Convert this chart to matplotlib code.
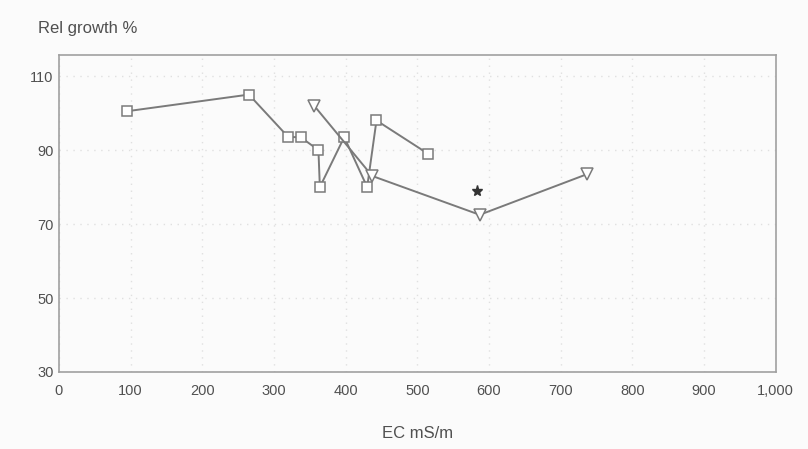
import matplotlib.pyplot as plt

plt.rcParams['font.family'] = ['Liberation Sans', 'DejaVu Sans']

# series read from the growth trial
square_ec = [95, 265, 320, 337, 362, 364, 398, 430, 443, 515]
square_growth = [100.5, 105, 93.5, 93.5, 90, 80, 93.5, 80, 98, 89]

triangle_ec = [356, 437, 587, 737]
triangle_growth = [102, 83, 72.5, 83.5]

star_ec = [583]
star_growth = [79]

x_ticks = [0, 100, 200, 300, 400, 500, 600, 700, 800, 900, 1000]
x_labels = ["0", "100", "200", "300", "400", "500", "600", "700", "800", "900", "1,000"]
y_ticks = [30, 50, 70, 90, 110]

line_col = "#7a7a7a"
text_col = "#505050"

fig = plt.figure(figsize=(8.08, 4.49), dpi=100)
fig.patch.set_facecolor("#fbfbfb")
ax = fig.add_axes([0.073, 0.1715, 0.887, 0.706])
ax.set_facecolor("#fbfbfb")

ax.plot(square_ec, square_growth, color=line_col, lw=1.4, marker="s", ms=6.5,
        mfc="white", mec=line_col, mew=1.1, zorder=3)
ax.plot(triangle_ec, triangle_growth, color=line_col, lw=1.4, marker="v", ms=8,
        mfc="white", mec=line_col, mew=1.1, zorder=3)
ax.plot(star_ec, star_growth, ls="none", marker="*", ms=8, color="#333333", zorder=4)

ax.set_xlim(0, 1000)
ax.set_ylim(30, 115.7)
ax.set_xticks(x_ticks)
ax.set_xticklabels(x_labels)
ax.set_yticks(y_ticks)
ax.tick_params(length=0, labelsize=10.5, colors=text_col, pad=4)
ax.tick_params(axis="x", pad=9)

ax.grid(True, color="#e0e0e0", ls=(0, (1, 4)), lw=1.0)
for side in ax.spines.values():
    side.set_color("#a0a0a0")
    side.set_linewidth(1.2)

ax.set_xlabel("EC mS/m", fontsize=12, color=text_col, labelpad=20)
fig.text(0.047, 0.92, "Rel growth %", fontsize=12, color=text_col, ha="left", va="bottom")

fig.savefig("out.png", dpi=100, facecolor=fig.get_facecolor())
